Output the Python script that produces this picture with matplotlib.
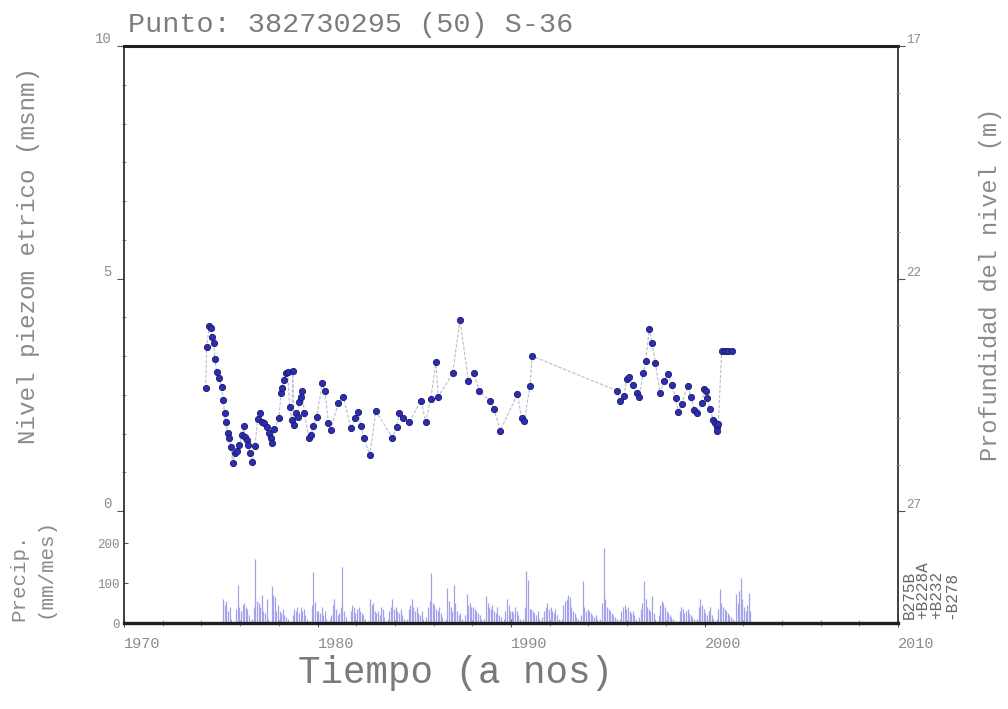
import matplotlib
matplotlib.use("Agg")
import matplotlib.pyplot as plt
import numpy as np

# ---------------- data ----------------
title_text = "Punto: 382730295 (50) S-36"

level_dates = [
    1974.22, 1974.27, 1974.41, 1974.48, 1974.53, 1974.64, 1974.70, 1974.79, 1974.93, 1975.05,
    1975.12, 1975.20, 1975.25, 1975.36, 1975.43, 1975.53, 1975.62, 1975.74, 1975.82, 1975.94,
    1976.11, 1976.19, 1976.25, 1976.34, 1976.42, 1976.51, 1976.63, 1976.77, 1976.91, 1977.03,
    1977.15, 1977.25, 1977.37, 1977.49, 1977.60, 1977.66, 1977.77, 1978.01, 1978.11, 1978.18,
    1978.28, 1978.36, 1978.46, 1978.56, 1978.67, 1978.72, 1978.80, 1978.87, 1978.98, 1979.04,
    1979.15, 1979.21, 1979.32, 1979.56, 1979.66, 1979.78, 1979.96, 1980.25, 1980.39, 1980.56,
    1980.68, 1981.07, 1981.33, 1981.73, 1981.94, 1982.11, 1982.23, 1982.40, 1982.71, 1983.01,
    1983.87, 1984.09, 1984.23, 1984.40, 1984.74, 1985.35, 1985.59, 1985.85, 1986.12, 1986.24,
    1986.99, 1987.36, 1987.80, 1988.10, 1988.36, 1988.91, 1989.12, 1989.45, 1990.33, 1990.55,
    1990.69, 1990.98, 1991.10,
    1995.46, 1995.63, 1995.84, 1995.98, 1996.11, 1996.29, 1996.50, 1996.62, 1996.84, 1996.96,
    1997.15, 1997.29, 1997.46, 1997.70, 1997.92, 1998.13, 1998.30, 1998.51, 1998.65, 1998.82,
    1999.13, 1999.30, 1999.47, 1999.63, 1999.86, 1999.99, 2000.08, 2000.15, 2000.28, 2000.46,
    2000.54, 2000.63, 2000.66, 2000.71, 2000.89, 2001.06, 2001.23, 2001.40,
]
level_values = [
    2.64, 3.53, 3.98, 3.93, 3.75, 3.61, 3.26, 2.98, 2.85, 2.66,
    2.39, 2.11, 1.92, 1.67, 1.56, 1.38, 1.03, 1.24, 1.28, 1.42,
    1.63, 1.83, 1.60, 1.53, 1.42, 1.24, 1.06, 1.40, 1.97, 2.11,
    1.92, 1.89, 1.81, 1.67, 1.56, 1.46, 1.76, 1.99, 2.53, 2.65,
    2.82, 2.96, 2.98, 2.24, 1.96, 3.01, 1.85, 2.10, 2.03, 2.35,
    2.45, 2.57, 2.10, 1.56, 1.63, 1.83, 2.02, 2.76, 2.57, 1.89,
    1.74, 2.32, 2.46, 1.78, 1.99, 2.12, 1.83, 1.56, 1.20, 2.15,
    1.58, 1.81, 2.10, 2.01, 1.92, 2.37, 1.92, 2.40, 3.21, 2.46,
    2.96, 4.11, 2.80, 2.96, 2.57, 2.37, 2.19, 1.73, 2.51, 1.99,
    1.94, 2.69, 3.33,
    2.59, 2.37, 2.47, 2.83, 2.88, 2.72, 2.53, 2.45, 2.96, 3.23,
    3.91, 3.62, 3.19, 2.54, 2.80, 2.95, 2.71, 2.42, 2.12, 2.30,
    2.69, 2.46, 2.17, 2.11, 2.32, 2.62, 2.57, 2.42, 2.19, 1.96,
    1.89, 1.80, 1.73, 1.87, 3.44, 3.44, 3.44, 3.44,
]

# monthly precipitation (mm/mes), Jan 1975 onwards
precip_start_year = 1975
precip_mm = [
    0, 60, 45, 55, 30, 40, 10, 0, 5, 35, 96, 40,        # 1975
    30, 45, 50, 40, 35, 20, 5, 10, 40, 160, 55, 50,     # 1976
    40, 70, 30, 25, 60, 10, 5, 92, 70, 65, 30, 45,      # 1977
    30, 25, 35, 20, 15, 10, 0, 5, 20, 35, 30, 40,       # 1978
    25, 40, 30, 35, 20, 10, 5, 5, 45, 128, 52, 30,      # 1979
    30, 25, 40, 20, 30, 10, 5, 10, 20, 45, 60, 35,      # 1980
    20, 25, 40, 140, 30, 15, 5, 5, 30, 45, 40, 25,      # 1981
    35, 40, 30, 25, 20, 10, 0, 5, 60, 45, 50, 30,       # 1982
    25, 30, 20, 40, 35, 15, 5, 10, 30, 40, 60, 35,      # 1983
    40, 30, 25, 35, 20, 10, 5, 10, 35, 45, 60, 40,      # 1984
    30, 40, 25, 20, 30, 10, 5, 15, 40, 55, 124, 50,     # 1985
    45, 35, 30, 40, 25, 15, 5, 10, 88, 55, 40, 30,      # 1986
    96, 50, 30, 20, 25, 10, 5, 20, 72, 45, 50, 40,      # 1987
    40, 35, 30, 25, 20, 10, 5, 10, 68, 50, 40, 35,      # 1988
    45, 30, 25, 40, 20, 15, 5, 10, 30, 60, 45, 30,      # 1989
    30, 25, 40, 30, 20, 10, 5, 10, 40, 130, 108, 35,    # 1990
    35, 30, 25, 20, 30, 10, 5, 15, 30, 40, 50, 35,      # 1991
    40, 30, 25, 35, 20, 10, 5, 10, 45, 55, 60, 70,      # 1992
    65, 40, 30, 25, 15, 10, 5, 20, 104, 40, 30, 35,     # 1993
    30, 25, 20, 15, 20, 10, 5, 10, 50, 188, 60, 40,     # 1994
    35, 30, 25, 20, 15, 10, 5, 10, 30, 40, 45, 35,      # 1995
    40, 30, 25, 30, 20, 10, 5, 15, 35, 50, 104, 60,     # 1996
    40, 35, 30, 68, 25, 10, 5, 20, 45, 55, 50, 40,      # 1997
    30, 25, 20, 15, 10, 5, 0, 5, 30, 40, 35, 25,        # 1998
    30, 35, 25, 20, 15, 10, 5, 10, 40, 60, 45, 35,      # 1999
    25, 20, 30, 40, 20, 10, 5, 10, 35, 84, 50, 40,      # 2000
    35, 30, 25, 20, 15, 10, 5, 72, 50, 80, 112, 60,     # 2001
    40, 30, 45, 76, 30,                                 # 2002
]

year_ticks = [1970, 1980, 1990, 2000, 2010]
level_ticks = [0, 5, 10]
depth_ticks = [17, 22, 27]
precip_ticks = [0, 100, 200]
stations = ["B275B", "+B228A", "+B232", "-B278"]

# ---------------- figure ----------------
W, H = 1008, 709
fig = plt.figure(figsize=(W / 100, H / 100), dpi=100)
FONT = "Liberation Mono"
GRAY = "#8c8c8c"

def fx(px):
    return px / W

def fy(py):
    return 1 - py / H

left, right = 124, 898
top, mid, bot = 46, 511, 623
ax = fig.add_axes([fx(left), fy(mid), fx(right) - fx(left), fy(top) - fy(mid)])
axp = fig.add_axes([fx(left), fy(bot), fx(right) - fx(left), fy(mid) - fy(bot)], sharex=ax)

# level series
precip_dates = [precip_start_year + (i + 0.5) / 12 for i in range(len(precip_mm))]
ax.plot(level_dates, level_values, linestyle=(0, (3, 1.5)), color="#bcbccb", lw=0.8, zorder=2)
ax.plot(level_dates, level_values, linestyle="none", marker="o", ms=4.5,
        mfc="#2d2db0", mec="#17176e", mew=0.6, zorder=3)

ax.set_xlim(1970, 2010)
ax.set_ylim(0, 10)

ax.spines["top"].set_linewidth(2.2)
ax.spines["top"].set_color("#202020")
for s in ["left", "right"]:
    ax.spines[s].set_linewidth(1.3)
    ax.spines[s].set_color("#303030")
ax.spines["bottom"].set_linewidth(0.8)
ax.spines["bottom"].set_color("#d4d4d4")

ax.set_yticks(level_ticks)
ax.set_yticklabels([str(v) for v in level_ticks])
ax.set_yticks(np.arange(0, 10.01, 5 / 6), minor=True)
ax.tick_params(axis="y", which="major", direction="out", length=5, width=0.8,
               colors="#555555", labelcolor=GRAY, labelsize=10, pad=4)
ax.tick_params(axis="y", which="minor", direction="inout", length=3, width=0.6, colors="#777777")
for lab in ax.get_yticklabels():
    lab.set_fontfamily(FONT)
    lab.set_verticalalignment("bottom")
ax.tick_params(axis="x", which="both", bottom=False, labelbottom=False)

# right depth axis
ax2 = ax.twinx()
ax2.set_ylim(27, 17)
ax2.set_yticks(depth_ticks)
ax2.set_yticklabels([str(v) for v in depth_ticks])
ax2.set_yticks(np.arange(17, 27.01, 1), minor=True)
ax2.tick_params(axis="y", which="major", direction="out", length=5, width=0.8,
                colors="#555555", labelcolor=GRAY, labelsize=9, pad=1)
ax2.tick_params(axis="y", which="minor", direction="inout", length=3, width=0.6, colors="#888888")
for lab in ax2.get_yticklabels():
    lab.set_fontfamily(FONT)
    lab.set_verticalalignment("bottom")
for s in ax2.spines.values():
    s.set_visible(False)

# precipitation panel
axp.vlines(precip_dates, 0, precip_mm, color="#a3a3ec", lw=0.9, zorder=2)
axp.set_ylim(0, 280)
axp.spines["top"].set_visible(False)
axp.spines["bottom"].set_linewidth(2.4)
axp.spines["bottom"].set_color("#202020")
for s in ["left", "right"]:
    axp.spines[s].set_linewidth(1.3)
    axp.spines[s].set_color("#303030")
axp.set_yticks(precip_ticks)
axp.set_yticklabels([str(v) for v in precip_ticks])
axp.tick_params(axis="y", which="major", direction="in", length=3, width=0.8,
                colors="#555555", labelcolor=GRAY, labelsize=9, pad=3)
for lab in axp.get_yticklabels():
    lab.set_fontfamily(FONT)

axp.set_xticks(year_ticks)
axp.set_xticklabels([str(v) for v in year_ticks])
axp.set_xticks(np.arange(1970, 2010.1, 2), minor=True)
axp.tick_params(axis="x", which="major", direction="inout", length=6, width=0.8,
                colors="#555555", labelcolor=GRAY, labelsize=11, pad=7)
axp.tick_params(axis="x", which="minor", direction="inout", length=4, width=0.6, colors="#777777")
for lab in axp.get_xticklabels():
    lab.set_fontfamily(FONT)
    lab.set_horizontalalignment("left")

# texts
fig.text(fx(128), fy(25), title_text, family=FONT, fontsize=20.5, color="#7c7c7c",
         ha="left", va="center")
fig.text(fx(455), fy(673), "Tiempo (a nos)", family=FONT, fontsize=27, color="#7a7a7a",
         ha="center", va="center")
fig.text(fx(29), fy(255), "Nivel piezom etrico (msnm)", family=FONT, fontsize=17.5,
         color="#8a8a8a", rotation=90, ha="center", va="center")
fig.text(fx(19), fy(577), "Precip.", family=FONT, fontsize=15, color="#8a8a8a",
         rotation=90, ha="center", va="center")
fig.text(fx(45), fy(568), "(mm/mes)", family=FONT, fontsize=15, color="#8a8a8a",
         rotation=90, ha="center", va="center")
fig.text(fx(991), fy(284), "Profundidad del nivel (m)", family=FONT, fontsize=17,
         color="#8a8a8a", rotation=90, ha="center", va="center")
for i, name in enumerate(stations):
    fig.text(fx(909 + 14 * i), fy(619), name, family=FONT, fontsize=11.5, color="#666666",
             rotation=90, ha="center", va="bottom")

fig.savefig("out.png", dpi=100)
